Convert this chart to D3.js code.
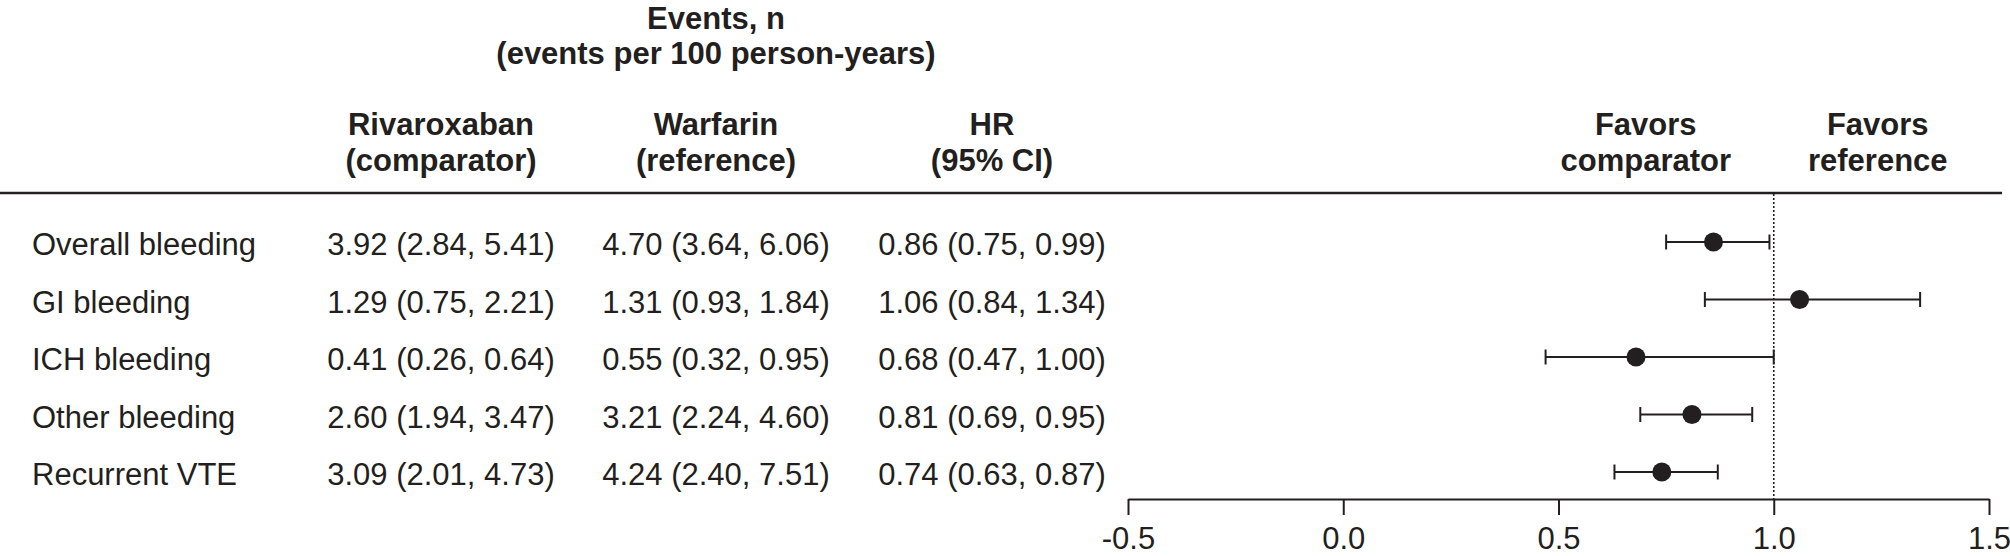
<!DOCTYPE html>
<html>
<head>
<meta charset="utf-8">
<script src="https://cdn.jsdelivr.net/npm/d3@7"></script>
<style>
  body { margin: 0; background: #fff; }
  text { font-family: "Liberation Sans", Arial, Helvetica, sans-serif; fill: #231f20; }
</style>
</head>
<body>
<div id="chart"></div>
<script>
// data
var outcomes = ["Overall bleeding", "GI bleeding", "ICH bleeding", "Other bleeding", "Recurrent VTE"];
var rivaroxabanRate = [3.92, 1.29, 0.41, 2.60, 3.09];
var rivaroxabanLow  = [2.84, 0.75, 0.26, 1.94, 2.01];
var rivaroxabanHigh = [5.41, 2.21, 0.64, 3.47, 4.73];
var warfarinRate = [4.70, 1.31, 0.55, 3.21, 4.24];
var warfarinLow  = [3.64, 0.93, 0.32, 2.24, 2.40];
var warfarinHigh = [6.06, 1.84, 0.95, 4.60, 7.51];
var hr     = [0.86, 1.06, 0.68, 0.81, 0.74];
var hrLow  = [0.75, 0.84, 0.47, 0.69, 0.63];
var hrHigh = [0.99, 1.34, 1.00, 0.95, 0.87];
var xTicks = [-0.5, 0.0, 0.5, 1.0, 1.5];

function init() {
    var w = 2010;
    var h = 556;
    var ink = "#231f20";
    var fs = 31;

    var svg = d3.select("#chart")
                .append("svg")
                .attr("width", w)
                .attr("height", h);

    var x = d3.scaleLinear().domain([-0.5, 1.5]).range([1128, 1989]);
    var y = d3.scalePoint().domain(outcomes).range([242, 472]);
    var f2 = function(v) { return v.toFixed(2); };
    var ci = function(v, lo, hi) { return f2(v) + " (" + f2(lo) + ", " + f2(hi) + ")"; };

    var rows = outcomes.map(function(d, i) {
        return {
            name: d,
            riva: ci(rivaroxabanRate[i], rivaroxabanLow[i], rivaroxabanHigh[i]),
            warf: ci(warfarinRate[i], warfarinLow[i], warfarinHigh[i]),
            hrText: ci(hr[i], hrLow[i], hrHigh[i]),
            hr: hr[i], lo: hrLow[i], hi: hrHigh[i]
        };
    });

    // column centres
    var colRiva = 441, colWarf = 716, colHr = 992;

    // headers
    var head = svg.append("g").attr("font-weight", "bold").attr("font-size", fs).attr("text-anchor", "middle");
    head.append("text").attr("x", colWarf).attr("y", 29).text("Events, n");
    head.append("text").attr("x", colWarf).attr("y", 64).text("(events per 100 person-years)");
    var headers = [
        [colRiva, "Rivaroxaban", "(comparator)"],
        [colWarf, "Warfarin", "(reference)"],
        [colHr, "HR", "(95% CI)"],
        [x(1) - 128, "Favors", "comparator"],
        [x(1) + 104, "Favors", "reference"]
    ];
    headers.forEach(function(d) {
        head.append("text").attr("x", d[0]).attr("y", 135).text(d[1]);
        head.append("text").attr("x", d[0]).attr("y", 171).text(d[2]);
    });

    // top rule
    svg.append("line")
        .attr("x1", 0).attr("x2", 2002)
        .attr("y1", 193).attr("y2", 193)
        .attr("stroke", ink).attr("stroke-width", 2.5);

    // reference line at HR = 1
    svg.append("line")
        .attr("x1", x(1)).attr("x2", x(1))
        .attr("y1", 194).attr("y2", 499)
        .attr("stroke", ink).attr("stroke-width", 1.6)
        .attr("stroke-dasharray", "2,2");

    // table rows
    var g = svg.selectAll("g.row")
                .data(rows)
                .enter()
                .append("g")
                .attr("class", "row")
                .attr("transform", function(d) { return "translate(0," + y(d.name) + ")"; });

    g.append("text").attr("x", 32).attr("y", 13).attr("font-size", fs).text(function(d) { return d.name; });
    g.append("text").attr("x", colRiva).attr("y", 13).attr("font-size", fs).attr("text-anchor", "middle").text(function(d) { return d.riva; });
    g.append("text").attr("x", colWarf).attr("y", 13).attr("font-size", fs).attr("text-anchor", "middle").text(function(d) { return d.warf; });
    g.append("text").attr("x", colHr).attr("y", 13).attr("font-size", fs).attr("text-anchor", "middle").text(function(d) { return d.hrText; });

    // error bars
    g.append("line")
        .attr("x1", function(d) { return x(d.lo); })
        .attr("x2", function(d) { return x(d.hi); })
        .attr("stroke", ink).attr("stroke-width", 2);
    g.append("line")
        .attr("x1", function(d) { return x(d.lo); })
        .attr("x2", function(d) { return x(d.lo); })
        .attr("y1", -7.5).attr("y2", 7.5)
        .attr("stroke", ink).attr("stroke-width", 2);
    g.append("line")
        .attr("x1", function(d) { return x(d.hi); })
        .attr("x2", function(d) { return x(d.hi); })
        .attr("y1", -7.5).attr("y2", 7.5)
        .attr("stroke", ink).attr("stroke-width", 2);
    g.append("circle")
        .attr("cx", function(d) { return x(d.hr); })
        .attr("r", 9.5)
        .attr("fill", ink);

    // x axis
    var axis = d3.axisBottom(x)
                .tickValues(xTicks)
                .tickFormat(function(d) { return d.toFixed(1); })
                .tickSize(16)
                .tickSizeOuter(0)
                .tickPadding(12);
    var ax = svg.append("g")
                .attr("transform", "translate(0,499)")
                .call(axis);
    ax.select(".domain").attr("stroke", ink).attr("stroke-width", 2);
    ax.selectAll(".tick line").attr("stroke", ink).attr("stroke-width", 2);
    ax.selectAll(".tick text")
        .attr("font-size", fs)
        .attr("font-family", "Liberation Sans, Arial, sans-serif")
        .attr("fill", ink);
}
window.onload = init;
</script>
</body>
</html>
